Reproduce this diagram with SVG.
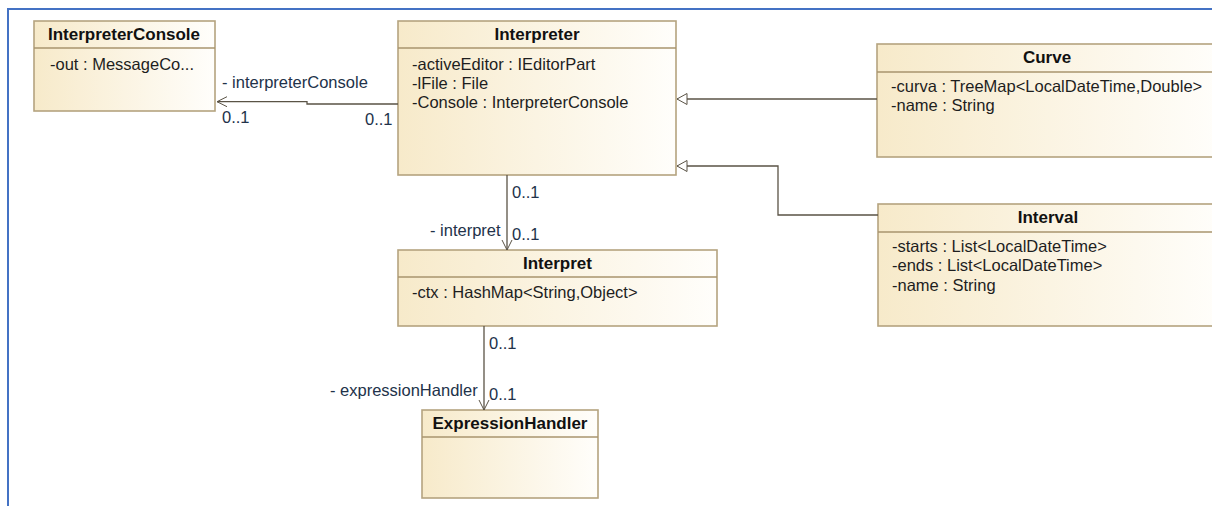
<svg xmlns="http://www.w3.org/2000/svg" width="1212" height="506" viewBox="0 0 1212 506">
<defs>
<linearGradient id="g" x1="0" y1="0" x2="1" y2="0">
<stop offset="0" stop-color="#f7eaca"/>
<stop offset="1" stop-color="#fffefb"/>
</linearGradient>
<marker id="open" markerWidth="12" markerHeight="12" refX="10" refY="5" orient="auto" markerUnits="userSpaceOnUse" viewBox="0 0 12 10">
<path d="M0,0 L10,5 L0,10" fill="none" stroke="#5a5346" stroke-width="1"/>
</marker>
<marker id="gen" markerWidth="14" markerHeight="14" refX="11" refY="6" orient="auto" markerUnits="userSpaceOnUse" viewBox="0 0 14 12">
<path d="M1,0.5 L11,6 L1,11.5 Z" fill="#ffffff" stroke="#5a5346" stroke-width="1"/>
</marker>
</defs>
<style>
.box{fill:url(#g);stroke:#b5a37f;stroke-width:1.6}
.sep{stroke:#a8946e;stroke-width:1.3}
.title{font-family:"Liberation Sans",Arial,sans-serif;font-weight:bold;font-size:17px;fill:#111;text-anchor:middle}
.attr{font-family:"Liberation Sans",Arial,sans-serif;font-size:16.5px;fill:#1e1e1e}
.lbl{font-family:"Liberation Sans",Arial,sans-serif;font-size:16.5px;fill:#22324a}
.conn{fill:none;stroke:#5a5346;stroke-width:1.3}
</style>
<rect width="1212" height="506" fill="#ffffff"/>
<path d="M8,506 L8,9 L1212,9" fill="none" stroke="#4472c4" stroke-width="2"/>

<g id="InterpreterConsole">
<rect class="box" x="34" y="21" width="181" height="90"/>
<line class="sep" x1="34" y1="48" x2="215" y2="48"/>
<text class="title" x="124" y="40">InterpreterConsole</text>
<text class="attr" x="50" y="70">-out : MessageCo...</text>
</g>

<g id="Interpreter">
<rect class="box" x="398" y="21" width="278" height="154"/>
<line class="sep" x1="398" y1="48" x2="676" y2="48"/>
<text class="title" x="537" y="40">Interpreter</text>
<text class="attr" x="412" y="70">-activeEditor : IEditorPart</text>
<text class="attr" x="412" y="89">-lFile : File</text>
<text class="attr" x="412" y="108">-Console : InterpreterConsole</text>
</g>

<g id="Curve">
<rect class="box" x="877" y="44" width="345" height="113"/>
<line class="sep" x1="877" y1="72" x2="1222" y2="72"/>
<text class="title" x="1047" y="63">Curve</text>
<text class="attr" x="891" y="92">-curva : TreeMap&lt;LocalDateTime,Double&gt;</text>
<text class="attr" x="891" y="111">-name : String</text>
</g>

<g id="Interval">
<rect class="box" x="878" y="204" width="345" height="122"/>
<line class="sep" x1="878" y1="232" x2="1223" y2="232"/>
<text class="title" x="1048" y="223">Interval</text>
<text class="attr" x="892" y="252">-starts : List&lt;LocalDateTime&gt;</text>
<text class="attr" x="892" y="271">-ends : List&lt;LocalDateTime&gt;</text>
<text class="attr" x="892" y="291">-name : String</text>
</g>

<g id="Interpret">
<rect class="box" x="398" y="250" width="319" height="76"/>
<line class="sep" x1="398" y1="277" x2="717" y2="277"/>
<text class="title" x="557.5" y="269">Interpret</text>
<text class="attr" x="412" y="298">-ctx : HashMap&lt;String,Object&gt;</text>
</g>

<g id="ExpressionHandler">
<rect class="box" x="422" y="410" width="176" height="88"/>
<line class="sep" x1="422" y1="437" x2="598" y2="437"/>
<text class="title" x="510" y="429">ExpressionHandler</text>
</g>

<g id="connectors">
<path class="conn" d="M398,104 L307,104 L307,101.7 L217,101.7" marker-end="url(#open)"/>
<text class="lbl" x="222" y="88">- interpreterConsole</text>
<text class="lbl" x="222" y="123">0..1</text>
<text class="lbl" x="365" y="125">0..1</text>

<path class="conn" d="M507,175 L507,250" marker-end="url(#open)"/>
<text class="lbl" x="512" y="198">0..1</text>
<text class="lbl" x="430" y="236">- interpret</text>
<text class="lbl" x="512" y="240">0..1</text>

<path class="conn" d="M484,326 L484,410" marker-end="url(#open)"/>
<text class="lbl" x="489" y="349">0..1</text>
<text class="lbl" x="330" y="396">- expressionHandler</text>
<text class="lbl" x="489" y="400">0..1</text>

<path class="conn" d="M877,99 L677,99" marker-end="url(#gen)"/>
<path class="conn" d="M878,215 L778,215 L778,166 L677,166" marker-end="url(#gen)"/>
</g>
</svg>
